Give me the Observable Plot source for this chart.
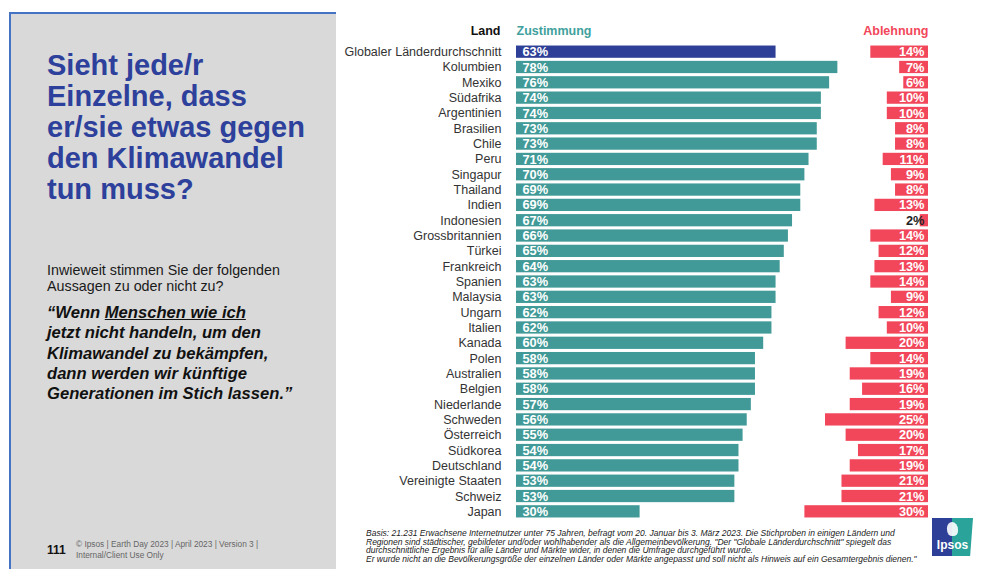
<!DOCTYPE html>
<html>
<head>
<meta charset="utf-8">
<script src="https://cdn.jsdelivr.net/npm/d3@7"></script>
<script src="https://cdn.jsdelivr.net/npm/@observablehq/plot@0.6"></script>
<style>
  html, body { margin: 0; padding: 0; background: #fff; }
  body { width: 997px; height: 569px; position: relative; overflow: hidden; font-family: "Liberation Sans", Arial, sans-serif; }
  #panel { position: absolute; left: 9px; top: 12px; width: 327px; height: 570px; background: #d9d9d9; border-left: 2px solid #4472c4; border-top: 2px solid #4472c4; box-sizing: border-box; }
  #title { position: absolute; left: 47px; top: 50px; color: #2d409b; font-weight: bold; font-size: 29px; line-height: 31px; white-space: nowrap; }
  #q { position: absolute; left: 47px; top: 262px; color: #1a1a1a; font-size: 14.3px; line-height: 16px; white-space: nowrap; }
  #quote { position: absolute; left: 47px; top: 303px; color: #111; font-size: 16.6px; font-weight: bold; font-style: italic; line-height: 20.3px; white-space: nowrap; }
  #pg { position: absolute; left: 47px; top: 543px; font-size: 12px; font-weight: bold; color: #111; }
  #copy { position: absolute; left: 76px; top: 539px; font-size: 8.3px; line-height: 11px; color: #666; white-space: nowrap; }
  #chart { position: absolute; left: 336px; top: 0px; }
  #chart svg { display: block; }
  #foot { position: absolute; left: 366px; top: 529px; font-size: 8.5px; line-height: 8.6px; font-style: italic; color: #222; white-space: nowrap; }
  #logo { position: absolute; left: 932px; top: 518px; width: 41px; height: 38px; background: linear-gradient(90deg, #2e3f97 0 50%, #2aa39a 50% 100%); clip-path: polygon(0 0, 100% 0, 93% 100%, 0 100%); }
  #logo span { position: absolute; left: 0; width: 41px; top: 20px; text-align: center; color: #fff; font-weight: bold; font-size: 12px; }
  #logo i { position: absolute; left: 15px; top: 4px; width: 11px; height: 14px; background: #fff; border-radius: 50% 60% 40% 50%; opacity: 0.9; }
</style>
</head>
<body>
<div id="panel"></div>
<div id="title">Sieht jede/r<br>Einzelne, dass<br>er/sie etwas gegen<br>den Klimawandel<br>tun muss?</div>
<div id="q">Inwieweit stimmen Sie der folgenden<br>Aussagen zu oder nicht zu?</div>
<div id="quote">“Wenn <u>Menschen wie ich</u><br>jetzt nicht handeln, um den<br>Klimawandel zu bekämpfen,<br>dann werden wir künftige<br>Generationen im Stich lassen.”</div>
<div id="pg">111</div>
<div id="copy">© Ipsos | Earth Day 2023 | April 2023 | Version 3 |<br>Internal/Client Use Only</div>
<div id="chart"></div>
<div id="foot">Basis: 21.231 Erwachsene Internetnutzer unter 75 Jahren, befragt vom 20. Januar bis 3. März 2023. Die Stichproben in einigen Ländern und<br>Regionen sind städtischer, gebildeter und/oder wohlhabender als die Allgemeinbevölkerung. "Der "Globale Länderdurchschnitt" spiegelt das<br>durchschnittliche Ergebnis für alle Länder und Märkte wider, in denen die Umfrage durchgeführt wurde.<br>Er wurde nicht an die Bevölkerungsgröße der einzelnen Länder oder Märkte angepasst und soll nicht als Hinweis auf ein Gesamtergebnis dienen."</div>
<div id="logo"><i></i><span>Ipsos</span></div>
<script>
const countries = ["Globaler Länderdurchschnitt","Kolumbien","Mexiko","Südafrika","Argentinien","Brasilien","Chile","Peru","Singapur","Thailand","Indien","Indonesien","Grossbritannien","Türkei","Frankreich","Spanien","Malaysia","Ungarn","Italien","Kanada","Polen","Australien","Belgien","Niederlande","Schweden","Österreich","Südkorea","Deutschland","Vereinigte Staaten","Schweiz","Japan"];
const agree = [63,78,76,74,74,73,73,71,70,69,69,67,66,65,64,63,63,62,62,60,58,58,58,57,56,55,54,54,53,53,30];
const disagree = [14,7,6,10,10,8,8,11,9,8,13,2,14,12,13,14,9,12,10,20,14,19,16,19,25,20,17,19,21,21,30];
const headers = ["Land","Zustimmung","Ablehnung"];

const rows = countries.map((c, i) => ({country: c, agree: agree[i], disagree: disagree[i], global: i === 0}));
const END = 100; // right end of the Ablehnung bars in x units

const teal = "#419a97", navy = "#2e3f97", red = "#f2475a";
const font = "Liberation Sans, Arial, sans-serif";

const chart = Plot.plot({
  width: 661,
  height: 525,
  marginLeft: 180,
  marginRight: 69,
  marginTop: 44,
  marginBottom: 6,
  style: {fontFamily: font, background: "transparent", overflow: "visible"},
  x: {domain: [0, END], axis: null},
  y: {domain: countries, paddingInner: 0.2, paddingOuter: 0.1, round: false, axis: null},
  marks: [
    Plot.barX(rows, {y: "country", x1: 0, x2: "agree", fill: d => d.global ? navy : teal}),
    Plot.barX(rows, {y: "country", x1: d => END - d.disagree, x2: END, fill: red}),
    Plot.axisY({tickSize: 0, tickPadding: 15, fontSize: 12.5, fill: "#333", textAnchor: "end", label: null}),
    Plot.text(rows, {y: "country", x: 0, dx: 6, text: d => d.agree + "%", textAnchor: "start", fill: "white", fontWeight: "bold", fontSize: 12.8}),
    Plot.text(rows, {y: "country", x: END, dx: -4, text: d => d.disagree + "%", textAnchor: "end", fill: d => d.disagree < 5 ? "#222" : "white", fontWeight: "bold", fontSize: 12.8}),
    Plot.text([headers[0]], {frameAnchor: "top-left", dx: -16, dy: -18, text: d => d, textAnchor: "end", fill: "#111", fontWeight: "bold", fontSize: 12.5}),
    Plot.text([headers[1]], {frameAnchor: "top-left", dx: 0, dy: -18, text: d => d, textAnchor: "start", fill: "#3fa19d", fontWeight: "bold", fontSize: 12.5}),
    Plot.text([headers[2]], {frameAnchor: "top-right", dx: 0, dy: -18, text: d => d, textAnchor: "end", fill: red, fontWeight: "bold", fontSize: 12.5})
  ]
});
document.getElementById("chart").appendChild(chart);
</script>
</body>
</html>
